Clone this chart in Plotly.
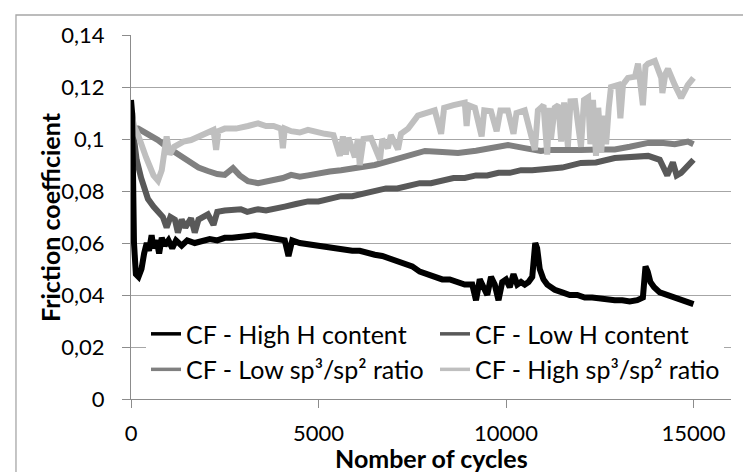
import plotly.graph_objects as go

# ---------------- data ----------------
hh_x = [0, 30, 80, 130, 200, 280, 350, 420, 480, 550, 600, 680, 750, 820, 900, 1000, 1100, 1200, 1350, 1500,
        1700, 1900, 2100, 2300, 2500, 2700, 2900, 3100, 3300, 3500, 3700, 3900, 4100, 4200, 4250, 4300, 4500,
        4700, 4900, 5100, 5300, 5500, 5700, 5900, 6100, 6300, 6500, 6700, 6900, 7100, 7300, 7500, 7700, 7900,
        8100, 8300, 8500, 8700, 8900, 9100, 9200, 9300, 9400, 9500, 9600, 9700, 9800, 9900, 10000, 10100,
        10200, 10300, 10400, 10500, 10600, 10700, 10780, 10830, 10900, 11000, 11100, 11300, 11500, 11700,
        11900, 12100, 12300, 12500, 12700, 12900, 13100, 13300, 13500, 13650, 13720, 13780, 13850, 13950,
        14100, 14300, 14500, 14700, 14900, 15000]
hh_y = [0.115, 0.110, 0.060, 0.048, 0.047, 0.050, 0.056, 0.060, 0.057, 0.063, 0.058, 0.061, 0.056, 0.062,
        0.059, 0.061, 0.058, 0.061, 0.059, 0.061, 0.060, 0.061, 0.0615, 0.061, 0.062, 0.062, 0.0625, 0.063,
        0.063, 0.0625, 0.062, 0.0615, 0.061, 0.055, 0.060, 0.061, 0.060, 0.0595, 0.059, 0.0585, 0.058, 0.058,
        0.0575, 0.057, 0.057, 0.056, 0.0555, 0.055, 0.054, 0.053, 0.052, 0.051, 0.049, 0.048, 0.047, 0.046,
        0.046, 0.045, 0.044, 0.044, 0.038, 0.046, 0.043, 0.040, 0.047, 0.044, 0.038, 0.045, 0.046, 0.043,
        0.048, 0.044, 0.045, 0.044, 0.045, 0.047, 0.060, 0.058, 0.050, 0.046, 0.044, 0.042, 0.041, 0.040,
        0.040, 0.039, 0.039, 0.0385, 0.038, 0.038, 0.038, 0.0375, 0.038, 0.039, 0.051, 0.049, 0.045, 0.043,
        0.041, 0.040, 0.039, 0.038, 0.037, 0.0365]

lh_x = [0, 30, 80, 150, 270, 450, 600, 720, 850, 950, 1050, 1170, 1250, 1350, 1450, 1600, 1700, 1800, 2050,
        2200, 2300, 2500, 2700, 2930, 3100, 3390, 3600, 3840, 4100, 4400, 4720, 5000, 5300, 5600, 5900, 6200,
        6500, 6800, 7100, 7400, 7700, 8000, 8300, 8600, 8900, 9200, 9500, 9800, 10100, 10400, 10700, 11120,
        11500, 12000, 12400, 12900, 13300, 13790, 14100, 14300, 14450, 14550, 14670, 14800, 15000]
lh_y = [0.105, 0.110, 0.100, 0.092, 0.085, 0.077, 0.074, 0.072, 0.070, 0.066, 0.070, 0.069, 0.064, 0.069,
        0.066, 0.0695, 0.064, 0.069, 0.071, 0.067, 0.072, 0.0725, 0.073, 0.073, 0.072, 0.073, 0.0725, 0.073,
        0.074, 0.075, 0.076, 0.076, 0.077, 0.078, 0.078, 0.079, 0.080, 0.081, 0.081, 0.082, 0.083, 0.083,
        0.084, 0.085, 0.085, 0.086, 0.086, 0.087, 0.087, 0.088, 0.088, 0.0888, 0.089, 0.0908, 0.091, 0.0927,
        0.093, 0.0935, 0.092, 0.086, 0.091, 0.086, 0.087, 0.089, 0.092]

ls_x = [0, 50, 190, 450, 720, 950, 1170, 1400, 1600, 1800, 2050, 2300, 2500, 2720, 2900, 3120, 3390, 3600,
        3840, 4050, 4270, 4500, 4720, 5000, 5300, 5600, 6000, 6500, 7000, 7390, 7840, 8300, 8720, 9200, 9600,
        10050, 10500, 10930, 11120, 11600, 12000, 12500, 12900, 13300, 13790, 14200, 14500, 14850, 15000]
ls_y = [0.107, 0.104, 0.104, 0.102, 0.0996, 0.097, 0.095, 0.093, 0.0908, 0.089, 0.0877, 0.0865, 0.0862,
        0.0888, 0.086, 0.0838, 0.083, 0.0835, 0.0842, 0.085, 0.0862, 0.0855, 0.086, 0.087, 0.0875, 0.088,
        0.089, 0.090, 0.092, 0.0935, 0.0954, 0.095, 0.0946, 0.0955, 0.0965, 0.0977, 0.0965, 0.0954, 0.0958,
        0.0955, 0.0958, 0.096, 0.096, 0.097, 0.0985, 0.0985, 0.098, 0.099, 0.098]

hs_x = [0, 20, 40, 80, 190, 400, 600, 720, 820, 950, 1030, 1150, 1400, 1600, 1800, 2050, 2200, 2270, 2330,
        2500, 2800, 3120, 3390, 3600, 3800, 4000, 4050, 4100, 4270, 4500, 4720, 5170, 5400, 5570, 5650, 5730,
        5800, 5970, 6050, 6100, 6200, 6400, 6640, 6700, 6850, 6930, 7120, 7200, 7390, 7650, 7900, 8100, 8270,
        8350, 8600, 8900, 8950, 9000, 9170, 9350, 9420, 9600, 9750, 9850, 10050, 10200, 10280, 10500, 10770,
        10850, 10930, 11000, 11100, 11150, 11200, 11300, 11400, 11470, 11550, 11650, 11720, 11840, 12000,
        12080, 12190, 12250, 12320, 12400, 12460, 12540, 12600, 12670, 12740, 12800, 12990, 13050, 13120,
        13250, 13440, 13520, 13650, 13720, 13790, 13970, 14140, 14170, 14250, 14320, 14500, 14670, 14850,
        15000]
hs_y = [0.112, 0.080, 0.108, 0.105, 0.1015, 0.093, 0.086, 0.084, 0.088, 0.101, 0.094, 0.097, 0.099, 0.0996,
        0.101, 0.103, 0.1035, 0.0958, 0.103, 0.104, 0.104, 0.105, 0.106, 0.105, 0.105, 0.104, 0.0965, 0.104,
        0.103, 0.1025, 0.1035, 0.102, 0.1015, 0.0935, 0.101, 0.094, 0.1005, 0.093, 0.100, 0.090, 0.100,
        0.1004, 0.092, 0.100, 0.0965, 0.1015, 0.096, 0.102, 0.104, 0.109, 0.110, 0.111, 0.102, 0.112, 0.113,
        0.114, 0.105, 0.113, 0.112, 0.101, 0.111, 0.1107, 0.103, 0.111, 0.111, 0.102, 0.110, 0.111, 0.0958,
        0.111, 0.112, 0.113, 0.094, 0.112, 0.100, 0.112, 0.113, 0.099, 0.114, 0.097, 0.1145, 0.1146, 0.097,
        0.115, 0.116, 0.098, 0.115, 0.0935, 0.112, 0.095, 0.109, 0.098, 0.112, 0.120, 0.1208, 0.108, 0.121,
        0.1235, 0.124, 0.129, 0.113, 0.128, 0.129, 0.130, 0.1235, 0.1177, 0.125, 0.127, 0.1208, 0.1158,
        0.1208, 0.1235]

series_names = ["CF - High H content", "CF - Low H content",
                "CF - Low sp³/sp² ratio", "CF - High sp³/sp² ratio"]
series_colors = ["#000000", "#595959", "#808080", "#bfbfbf"]

x_tickvals = [0, 5000, 10000, 15000]
x_ticktext = ["0", "5000", "10000", "15000"]
y_tickvals = [0, 0.02, 0.04, 0.06, 0.08, 0.1, 0.12, 0.14]
y_ticktext = ["0", "0,02", "0,04", "0,06", "0,08", "0,1", "0,12", "0,14"]

x_title = "Nomber of cycles"
y_title = "Friction coefficient"

# ---------------- figure ----------------
FONT = "Lato"
fig = go.Figure()

# drawing order: Low H, Low sp3, High sp3, then High H on top
draw = [(lh_x, lh_y, 1), (ls_x, ls_y, 2), (hs_x, hs_y, 3), (hh_x, hh_y, 0)]
for xs, ys, k in draw:
    fig.add_trace(go.Scatter(x=xs, y=ys, mode="lines", name=series_names[k], showlegend=False,
                             line=dict(color=series_colors[k], width=6)))

# legend entries (thinner sample lines, as in the reference)
for k in range(4):
    fig.add_trace(go.Scatter(x=[None], y=[None], mode="lines", name=series_names[k],
                             line=dict(color=series_colors[k], width=3.5)))

axis_common = dict(showline=True, linecolor="#8c8c8c", linewidth=1.3, ticks="outside", ticklen=8,
                   tickcolor="#8c8c8c", zeroline=False,
                   tickfont=dict(family=FONT, size=22, color="#000000"))

fig.update_xaxes(range=[0, 16000], tickvals=x_tickvals, ticktext=x_ticktext, showgrid=False,
                 ticklabelstandoff=6, **axis_common)
fig.update_yaxes(range=[0, 0.14], tickvals=y_tickvals, ticktext=y_ticktext, showgrid=True,
                 gridcolor="#a6a6a6", gridwidth=1.3, ticklabelstandoff=13, **axis_common)

fig.update_layout(
    width=751, height=472,
    margin=dict(l=123, r=28, t=27, b=81),
    paper_bgcolor="white", plot_bgcolor="white",
    showlegend=True,
    legend=dict(orientation="h", x=0.025, xanchor="left", y=0.2415, yanchor="top",
                bgcolor="white", font=dict(family=FONT, size=25, color="#000000"),
                entrywidthmode="pixels", entrywidth=244, traceorder="normal",
                itemwidth=30),
    annotations=[
        dict(text="<b>" + x_title + "</b>", xref="paper", yref="paper", x=0.5, y=-0.1625,
             xanchor="center", yanchor="middle", showarrow=False,
             font=dict(family=FONT, size=25, color="#000000")),
        dict(text="<b>" + y_title + "</b>", xref="paper", yref="paper", x=-0.135, y=0.5,
             xanchor="center", yanchor="middle", showarrow=False, textangle=-90,
             font=dict(family=FONT, size=25, color="#000000")),
    ],
    shapes=[dict(type="rect", xref="paper", yref="paper", x0=-0.1917, y0=1.0549, x1=1.07, y1=-0.26,
                 line=dict(color="#a6a6a6", width=1.3), fillcolor="rgba(0,0,0,0)", layer="below")],
)

fig.write_html("out.html")
